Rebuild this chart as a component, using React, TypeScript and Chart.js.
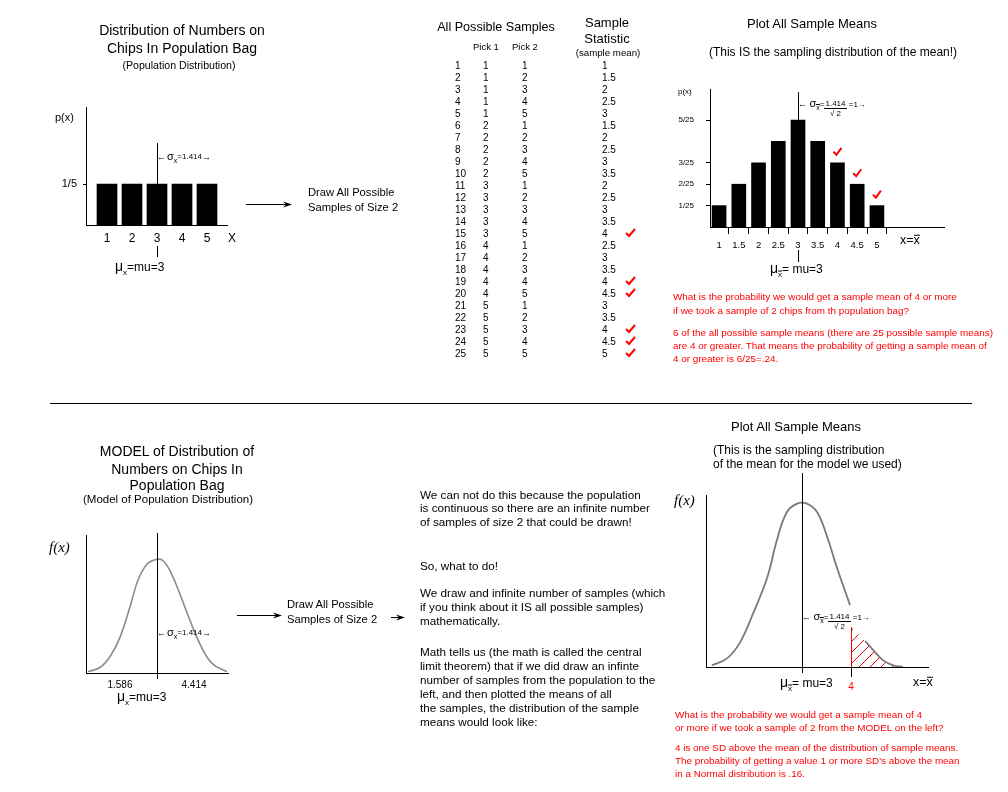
import React, { useEffect, useRef } from "react";
import { Chart, registerables } from "chart.js";
Chart.register(...registerables);

const FONT = '"Liberation Sans", Arial, sans-serif';
const SERIF = '"Liberation Serif", "Times New Roman", serif';

// ---------- data ----------
const chipValues = [1, 2, 3, 4, 5];
const chipProb = [0.2, 0.2, 0.2, 0.2, 0.2];
const popYTicks = [0.2];
const popYLabels = ["1/5"];

const sampleIndex = [1, 2, 3, 4, 5, 6, 7, 8, 9, 10, 11, 12, 13, 14, 15, 16, 17, 18, 19, 20, 21, 22, 23, 24, 25];
const pick1 = [1, 1, 1, 1, 1, 2, 2, 2, 2, 2, 3, 3, 3, 3, 3, 4, 4, 4, 4, 4, 5, 5, 5, 5, 5];
const pick2 = [1, 2, 3, 4, 5, 1, 2, 3, 4, 5, 1, 2, 3, 4, 5, 1, 2, 3, 4, 5, 1, 2, 3, 4, 5];
const sampleMeans = [1, 1.5, 2, 2.5, 3, 1.5, 2, 2.5, 3, 3.5, 2, 2.5, 3, 3.5, 4, 2.5, 3, 3.5, 4, 4.5, 3, 3.5, 4, 4.5, 5];

const meanValues = [1, 1.5, 2, 2.5, 3, 3.5, 4, 4.5, 5];
const meanCounts = [1, 2, 3, 4, 5, 4, 3, 2, 1];
const meanYTicks = [1, 2, 3, 5];
const meanYLabels = ["1/25", "2/25", "3/25", "5/25"];
const meanXTicks = [1, 1.5, 2, 2.5, 3, 3.5, 4, 4.5, 5];

const modelX = [0.37, 0.82, 1.21, 1.59, 1.97, 2.27, 2.62, 2.92, 3.19, 3.5, 3.88, 4.26, 4.64, 5.1, 5.67];
const modelY = [0.01, 0.04, 0.12, 0.26, 0.48, 0.67, 0.79, 0.82, 0.82, 0.74, 0.57, 0.38, 0.21, 0.07, 0.01];
const modelTicks = [1.586, 4.414];

const sampX = [1.16, 1.47, 1.73, 2.0, 2.29, 2.49, 2.69, 2.9, 3.1, 3.31, 3.51, 3.71, 3.98, 4.1, 4.29, 4.45, 4.65, 4.86, 5.06];
const sampY: (number | null)[] = [0.01, 0.05, 0.14, 0.31, 0.52, 0.74, 0.9, 0.95, 0.95, 0.9, 0.76, 0.58, 0.36, null, 0.15, 0.1, 0.04, 0.01, 0.0];
const sampTicks = [4];

const redTop = [
  "What is the probability we would get a sample mean of 4 or more",
  "if we took a sample of 2 chips from th population bag?",
  "6 of the all possible sample means (there are 25 possible sample means)",
  "are 4 or greater. That means the probability of getting a sample mean of",
  "4 or greater is 6/25=.24.",
];
const redBottom = [
  "What is the probability we would get a sample mean of 4",
  "or more if we took a sample of 2 from the MODEL on the left?",
  "4 is one SD above the mean of the distribution of sample means.",
  "The probability of getting a value 1 or more SD's above the mean",
  "in a Normal distribution is .16.",
];
const middleText = [
  "We can not do this because the population",
  "is continuous so there are an infinite number",
  "of samples of size 2 that could be drawn!",
  "So, what to do!",
  "We draw and infinite number of samples (which",
  "if you think about it IS all possible samples)",
  "mathematically.",
  "Math tells us (the math is called the central",
  "limit theorem) that if we did draw an infinte",
  "number of samples from the population to the",
  "left, and then plotted the means of all",
  "the samples, the distribution of the sample",
  "means would look like:",
];
const middleY = [495, 508, 522, 566, 593, 607, 621, 652, 666, 680, 694, 708, 722];

// ---------- helpers ----------
function vline(ctx: CanvasRenderingContext2D, x: number, y1: number, y2: number, color = "#000", w = 1) {
  ctx.save();
  ctx.beginPath();
  const xx = Math.round(x) + 0.5;
  ctx.moveTo(xx, y1);
  ctx.lineTo(xx, y2);
  ctx.strokeStyle = color;
  ctx.lineWidth = w;
  ctx.stroke();
  ctx.restore();
}

function check(ctx: CanvasRenderingContext2D, cx: number, cy: number) {
  ctx.save();
  ctx.beginPath();
  ctx.moveTo(cx - 4, cy);
  ctx.lineTo(cx - 1, cy + 3);
  ctx.lineTo(cx + 4, cy - 4);
  ctx.strokeStyle = "#ff0000";
  ctx.lineWidth = 2;
  ctx.stroke();
  ctx.restore();
}

const baseOpts = {
  animation: false,
  responsive: false,
  events: [],
  plugins: { legend: { display: false }, tooltip: { enabled: false } },
};

const border = { display: true, color: "#000", width: 1 };

const fitY = (w: number) => (s: any) => {
  s.width = w;
  s.paddingTop = 0;
  s.paddingBottom = 0;
};
const fitX = (h: number) => (s: any) => {
  s.height = h;
  s.paddingLeft = 0;
  s.paddingRight = 0;
};

function ChartCanvas({ left, top, width, height, make }: any) {
  const ref = useRef<HTMLCanvasElement>(null);
  useEffect(() => {
    const chart = new Chart(ref.current as HTMLCanvasElement, make());
    return () => chart.destroy();
  }, []);
  return (
    <canvas
      ref={ref}
      width={width}
      height={height}
      style={{ position: "absolute", left, top, width, height }}
    />
  );
}

// ---------- chart configs ----------
function makePop(): any {
  return {
    type: "bar",
    data: {
      datasets: [
        {
          data: chipValues.map((x, i) => ({ x, y: chipProb[i] })),
          backgroundColor: "#000",
          borderWidth: 0,
          barThickness: 20,
        },
      ],
    },
    options: {
      ...baseOpts,
      layout: { padding: { top: 7, right: 13, left: 0, bottom: 0 } },
      scales: {
        x: {
          type: "linear",
          min: 0.16,
          max: 5.8,
          offset: false,
          grid: { display: false, drawTicks: false },
          border,
          afterBuildTicks: (s: any) => {
            s.ticks = chipValues.map((v) => ({ value: v }));
          },
          ticks: { color: "#000", font: { family: FONT, size: 12 }, padding: 6, autoSkip: false, maxRotation: 0, callback: (v: any) => String(v) },
          afterFit: fitX(45),
        },
        y: {
          type: "linear",
          min: 0,
          max: 0.576,
          grid: { display: true, drawOnChartArea: false, drawTicks: true, tickLength: 3, color: "#000" },
          border,
          afterBuildTicks: (s: any) => {
            s.ticks = popYTicks.map((v) => ({ value: v }));
          },
          ticks: { color: "#000", font: { family: FONT, size: 11 }, padding: 6, callback: (_v: any, i: number) => popYLabels[i] },
          afterFit: fitY(46),
        },
      },
    },
    plugins: [
      {
        id: "popMarks",
        afterDatasetsDraw(chart: any) {
          const { ctx, scales, chartArea } = chart;
          const x = scales.x.getPixelForValue(3);
          vline(ctx, x, scales.y.getPixelForValue(0.4), scales.y.getPixelForValue(0.2));
          vline(ctx, x, chartArea.bottom + 21, chartArea.bottom + 32);
        },
      },
    ],
  };
}

function makeMeans(): any {
  return {
    type: "bar",
    data: {
      datasets: [
        {
          data: meanValues.map((x, i) => ({ x, y: meanCounts[i] })),
          backgroundColor: "#000",
          borderWidth: 0,
          barThickness: 14,
        },
      ],
    },
    options: {
      ...baseOpts,
      layout: { padding: { top: 9, right: 16, left: 0, bottom: 0 } },
      scales: {
        x: {
          type: "linear",
          min: 0.77,
          max: 6.7,
          offset: false,
          grid: { display: true, drawOnChartArea: false, drawTicks: true, tickLength: 7, color: "#000" },
          border,
          afterBuildTicks: (s: any) => {
            s.ticks = meanXTicks.map((v) => ({ value: v }));
          },
          ticks: { color: "#000", font: { family: FONT, size: 9.5 }, padding: 6, autoSkip: false, maxRotation: 0, callback: (v: any) => String(v) },
          afterFit: fitX(53),
        },
        y: {
          type: "linear",
          min: 0,
          max: 6.45,
          grid: { display: true, drawOnChartArea: false, drawTicks: true, tickLength: 4, color: "#000" },
          border,
          afterBuildTicks: (s: any) => {
            s.ticks = meanYTicks.map((v) => ({ value: v }));
          },
          ticks: { color: "#000", font: { family: FONT, size: 8 }, padding: 12, callback: (_v: any, i: number) => meanYLabels[i] },
          afterFit: fitY(50),
        },
      },
    },
    plugins: [
      {
        id: "meanMarks",
        afterDatasetsDraw(chart: any) {
          const { ctx, scales, chartArea } = chart;
          const x = scales.x.getPixelForValue(3);
          vline(ctx, x, scales.y.getPixelForValue(6.3), scales.y.getPixelForValue(5));
          vline(ctx, x, chartArea.bottom + 23, chartArea.bottom + 35);
          meanValues.forEach((v, i) => {
            if (v >= 4) check(ctx, scales.x.getPixelForValue(v), scales.y.getPixelForValue(meanCounts[i]) - 11);
          });
        },
      },
    ],
  };
}

function makeModel(): any {
  return {
    type: "line",
    data: {
      datasets: [
        {
          data: modelX.map((x, i) => ({ x, y: modelY[i] })),
          borderColor: "#8c8c8c",
          borderWidth: 1.6,
          pointRadius: 0,
          tension: 0.4,
          fill: false,
        },
      ],
    },
    options: {
      ...baseOpts,
      layout: { padding: { top: 10, right: 12, left: 0, bottom: 0 } },
      scales: {
        x: {
          type: "linear",
          min: 0.29,
          max: 5.71,
          grid: { display: false, drawTicks: false },
          border,
          afterBuildTicks: (s: any) => {
            s.ticks = modelTicks.map((v) => ({ value: v }));
          },
          ticks: { color: "#000", font: { family: FONT, size: 10 }, padding: 6, autoSkip: false, maxRotation: 0, callback: (v: any) => String(v) },
          afterFit: fitX(27),
        },
        y: {
          type: "linear",
          min: 0,
          max: 1,
          grid: { display: false, drawTicks: false },
          border,
          ticks: { display: false },
          afterFit: fitY(46),
        },
      },
    },
    plugins: [
      {
        id: "modelMarks",
        afterDatasetsDraw(chart: any) {
          const { ctx, scales, chartArea } = chart;
          vline(ctx, scales.x.getPixelForValue(3), chartArea.top - 2, chartArea.bottom + 6);
        },
      },
    ],
  };
}

function makeSamp(): any {
  const hatchTop = 0.233;
  return {
    type: "line",
    data: {
      datasets: [
        {
          data: sampX.map((x, i) => ({ x, y: sampY[i] })),
          borderColor: "#7a7a7a",
          borderWidth: 1.8,
          pointRadius: 0,
          tension: 0.4,
          spanGaps: false,
          fill: false,
        },
      ],
    },
    options: {
      ...baseOpts,
      layout: { padding: { top: 30, right: 22, left: 0, bottom: 0 } },
      scales: {
        x: {
          type: "linear",
          min: 1.041,
          max: 5.571,
          grid: { display: true, drawOnChartArea: false, drawTicks: true, tickLength: 10, color: "#000" },
          border,
          afterBuildTicks: (s: any) => {
            s.ticks = sampTicks.map((v) => ({ value: v }));
          },
          ticks: { color: "#ff0000", font: { family: FONT, size: 10 }, padding: 4, autoSkip: false, maxRotation: 0, callback: (v: any) => String(v) },
          afterFit: fitX(33),
        },
        y: {
          type: "linear",
          min: 0,
          max: 1,
          grid: { display: false, drawTicks: false },
          border,
          ticks: { display: false },
          afterFit: fitY(46),
        },
      },
    },
    plugins: [
      {
        id: "sampHatch",
        beforeDatasetsDraw(chart: any) {
          const { ctx, scales } = chart;
          const xs = scales.x;
          const ys = scales.y;
          const x4 = xs.getPixelForValue(4);
          const y0 = ys.getPixelForValue(0);
          ctx.save();
          ctx.beginPath();
          ctx.moveTo(x4, y0);
          ctx.lineTo(x4, ys.getPixelForValue(hatchTop));
          let lastX = x4;
          sampX.forEach((x, i) => {
            const y = sampY[i];
            if (x > 4 && y !== null) {
              lastX = xs.getPixelForValue(x);
              ctx.lineTo(lastX, ys.getPixelForValue(y));
            }
          });
          ctx.lineTo(lastX, y0);
          ctx.closePath();
          ctx.clip();
          ctx.beginPath();
          for (let s = x4 - 60; s < lastX + 10; s += 11) {
            ctx.moveTo(s, y0 + 2);
            ctx.lineTo(s + 62, y0 - 60);
          }
          ctx.strokeStyle = "#ff0000";
          ctx.lineWidth = 1;
          ctx.stroke();
          ctx.restore();
        },
        afterDatasetsDraw(chart: any) {
          const { ctx, scales, chartArea } = chart;
          vline(ctx, scales.x.getPixelForValue(3), chartArea.top - 22, chartArea.bottom + 6);
          vline(ctx, scales.x.getPixelForValue(4), scales.y.getPixelForValue(hatchTop), scales.y.getPixelForValue(0), "#ff0000");
        },
      },
    ],
  };
}

// ---------- text helpers ----------
function Txt({ x, y, size = 12, align = "left", color = "#000", family = FONT, style, children }: any) {
  const tx = align === "center" ? "translate(-50%, -50%)" : align === "right" ? "translate(-100%, -50%)" : "translateY(-50%)";
  return (
    <div
      style={{
        position: "absolute",
        left: x,
        top: y,
        transform: tx,
        fontSize: size,
        fontFamily: family,
        color,
        whiteSpace: "nowrap",
        lineHeight: 1,
        ...style,
      }}
    >
      {children}
    </div>
  );
}

const barX = { display: "inline-block", borderTop: "1px solid currentColor", lineHeight: 0.75 };

function Mu({ x, y, bar }: any) {
  return (
    <Txt x={x} y={y} size={12}>
      <span style={{ fontSize: 14 }}>μ</span>
      <span style={{ fontSize: 8, verticalAlign: -4, ...(bar ? barX : {}) }}>x</span>
      <span>{bar ? "= mu=3" : "=mu=3"}</span>
    </Txt>
  );
}

function SigmaSimple({ x, y }: any) {
  return (
    <Txt x={x} y={y} size={9}>
      <span>←</span>
      <span style={{ fontSize: 11, marginLeft: 1 }}>σ</span>
      <span style={{ fontSize: 7, verticalAlign: -3 }}>x</span>
      <span style={{ fontSize: 8, verticalAlign: 1 }}>=1.414</span>
      <span>→</span>
    </Txt>
  );
}

function SigmaFrac({ x, y }: any) {
  return (
    <div
      style={{
        position: "absolute",
        left: x,
        top: y - 6,
        fontFamily: FONT,
        whiteSpace: "nowrap",
        lineHeight: "12px",
        fontSize: 9,
      }}
    >
      <span>← </span>
      <span style={{ fontSize: 11 }}>σ</span>
      <span style={{ fontSize: 7, verticalAlign: -3, ...barX }}>x</span>
      <span style={{ fontSize: 8 }}>=</span>
      <span
        style={{
          display: "inline-block",
          verticalAlign: "top",
          fontSize: 8,
          lineHeight: "9px",
          textAlign: "center",
          marginTop: 2,
        }}
      >
        <span style={{ display: "block", borderBottom: "1px solid #000", padding: "0 1px" }}>1.414</span>
        <span style={{ display: "block" }}>√ 2</span>
      </span>
      <span style={{ fontSize: 8 }}> =1→</span>
    </div>
  );
}

function XBar({ x, y }: any) {
  return (
    <Txt x={x} y={y} size={12.5}>
      x=<span style={barX}>x</span>
    </Txt>
  );
}

function Arrow({ x1, x2, y }: any) {
  return (
    <g>
      <line x1={x1} y1={y + 0.5} x2={x2 - 6} y2={y + 0.5} stroke="#000" strokeWidth={1} />
      <polygon points={`${x2},${y + 0.5} ${x2 - 9},${y - 2.5} ${x2 - 6},${y + 0.5} ${x2 - 9},${y + 3.5}`} fill="#000" />
    </g>
  );
}

export default function App() {
  const rowY = (i: number) => 66 + 12 * i;
  return (
    <div
      style={{
        position: "absolute",
        left: 0,
        top: 0,
        width: 1008,
        height: 792,
        background: "#fff",
        overflow: "hidden",
        fontFamily: FONT,
        color: "#000",
      }}
    >
      <ChartCanvas left={40} top={100} width={200} height={170} make={makePop} />
      <ChartCanvas left={660} top={80} width={300} height={200} make={makeMeans} />
      <ChartCanvas left={40} top={525} width={200} height={175} make={makeModel} />
      <ChartCanvas left={660} top={465} width={290} height={235} make={makeSamp} />

      <svg width={1008} height={792} style={{ position: "absolute", left: 0, top: 0, pointerEvents: "none" }}>
        <Arrow x1={246} x2={292} y={204} />
        <Arrow x1={237} x2={282} y={615} />
        <Arrow x1={391} x2={405} y={617} />
        <line x1={50} y1={403.5} x2={972} y2={403.5} stroke="#000" strokeWidth={1} />
        {sampleMeans.map((m, i) =>
          m >= 4 ? (
            <polyline
              key={i}
              points={`${626},${rowY(i) - 1} ${629},${rowY(i) + 2} ${635},${rowY(i) - 5}`}
              fill="none"
              stroke="#ff0000"
              strokeWidth={2}
            />
          ) : null
        )}
      </svg>

      {/* top-left */}
      <Txt x={182} y={30} size={14} align="center">Distribution of Numbers on</Txt>
      <Txt x={182} y={48} size={14} align="center">Chips In Population Bag</Txt>
      <Txt x={179} y={65} size={10.6} align="center">(Population Distribution)</Txt>
      <Txt x={55} y={117} size={11}>p(x)</Txt>
      <Txt x={228} y={238} size={12}>X</Txt>
      <SigmaSimple x={157} y={157} />
      <Mu x={115} y={268} />
      <Txt x={308} y={193} size={11.2}>Draw All Possible</Txt>
      <Txt x={308} y={208} size={11.2}>Samples of Size 2</Txt>

      {/* table */}
      <Txt x={496} y={27} size={12.6} align="center">All Possible Samples</Txt>
      <Txt x={607} y={22} size={13} align="center">Sample</Txt>
      <Txt x={607} y={38} size={13} align="center">Statistic</Txt>
      <Txt x={608} y={53} size={9.7} align="center">(sample mean)</Txt>
      <Txt x={473} y={47} size={9.5}>Pick 1</Txt>
      <Txt x={512} y={47} size={9.5}>Pick 2</Txt>
      {sampleIndex.map((n, i) => (
        <React.Fragment key={n}>
          <Txt x={455} y={rowY(i)} size={10}>{String(n)}</Txt>
          <Txt x={483} y={rowY(i)} size={10}>{String(pick1[i])}</Txt>
          <Txt x={522} y={rowY(i)} size={10}>{String(pick2[i])}</Txt>
          <Txt x={602} y={rowY(i)} size={10}>{String(sampleMeans[i])}</Txt>
        </React.Fragment>
      ))}

      {/* top-right */}
      <Txt x={812} y={23} size={13} align="center">Plot All Sample Means</Txt>
      <Txt x={833} y={52} size={12} align="center">(This IS the sampling distribution of the mean!)</Txt>
      <Txt x={678} y={92} size={8}>p(x)</Txt>
      <XBar x={900} y={240} />
      <SigmaFrac x={798} y={103} />
      <Mu x={770} y={269} bar />
      {[297, 311, 333, 346, 359].map((y, i) => (
        <Txt key={i} x={673} y={y} size={9.9} color="#ff0000">{redTop[i]}</Txt>
      ))}

      {/* bottom-left */}
      <Txt x={177} y={451} size={14} align="center">MODEL of Distribution of</Txt>
      <Txt x={177} y={469} size={14} align="center">Numbers on Chips In</Txt>
      <Txt x={177} y={485} size={14} align="center">Population Bag</Txt>
      <Txt x={168} y={500} size={11.5} align="center">(Model of Population Distribution)</Txt>
      <Txt x={49} y={547} size={15} family={SERIF} style={{ fontStyle: "italic" }}>f(x)</Txt>
      <SigmaSimple x={157} y={633} />
      <Mu x={117} y={698} />
      <Txt x={287} y={605} size={11.2}>Draw All Possible</Txt>
      <Txt x={287} y={620} size={11.2}>Samples of Size 2</Txt>

      {/* middle text */}
      <div style={{ position: "absolute", left: 420, top: 0, width: 252, height: 792, overflow: "hidden" }}>
        {middleText.map((t, i) => (
          <Txt key={i} x={0} y={middleY[i]} size={11.7}>{t}</Txt>
        ))}
      </div>

      {/* bottom-right */}
      <Txt x={796} y={426} size={13} align="center">Plot All Sample Means</Txt>
      <Txt x={713} y={450} size={12}>(This is the sampling distribution</Txt>
      <Txt x={713} y={464} size={12}>of the mean for the model we used)</Txt>
      <Txt x={674} y={500} size={15} family={SERIF} style={{ fontStyle: "italic" }}>f(x)</Txt>
      <XBar x={913} y={682} />
      <Mu x={780} y={683} bar />
      <SigmaFrac x={802} y={616} />
      {[715, 728, 748, 761, 774].map((y, i) => (
        <Txt key={i} x={675} y={y} size={9.9} color="#ff0000">{redBottom[i]}</Txt>
      ))}
    </div>
  );
}
